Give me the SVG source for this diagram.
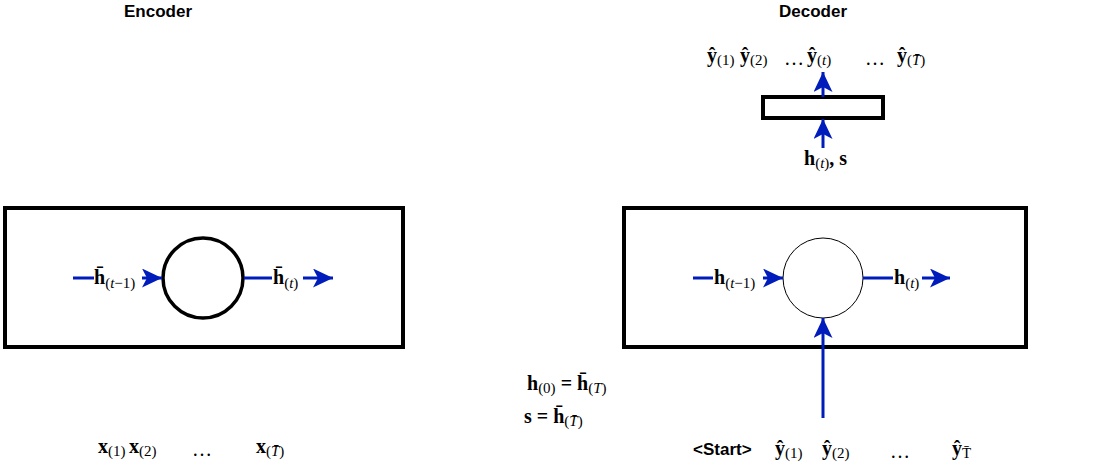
<svg xmlns="http://www.w3.org/2000/svg" width="1105" height="469" viewBox="0 0 1105 469">
<style>
.title{font-family:"Liberation Sans",Arial,sans-serif;font-size:17px;font-weight:bold;fill:#000}
.m{font-family:"Liberation Serif","Times New Roman",serif;font-size:20px;font-weight:bold;fill:#000}
.s{font-size:15px;font-weight:normal}
.i{font-style:italic}
.dots{font-family:"Liberation Serif","Times New Roman",serif;font-size:20px;fill:#000}
.box{fill:#fff;stroke:#000;stroke-width:4}
.cell{fill:#fff;stroke:#000}
.conn{fill:none;stroke:#001DBC;stroke-width:3;marker-end:url(#ah)}
.bg{fill:#fff}
</style>
<defs>
<marker id="ah" markerUnits="userSpaceOnUse" markerWidth="20" markerHeight="19" refX="20" refY="9.5" orient="auto" viewBox="0 0 20 19">
<path d="M0,0 L20,9.5 L0,19 L5,9.5 z" fill="#001DBC"/>
</marker>
</defs>
<rect width="1105" height="469" fill="#fff"/>

<g id="encoder-title"><text class="title" x="158" y="17" text-anchor="middle">Encoder</text></g>
<g id="decoder-title"><text class="title" x="813" y="17" text-anchor="middle">Decoder</text></g>

<g id="encoder-box"><rect class="box" x="5" y="208" width="398" height="139"/></g>
<g id="encoder-cell"><circle class="cell" cx="203" cy="278" r="40" stroke-width="3.5"/></g>

<g id="decoder-box"><rect class="box" x="624" y="208" width="402" height="139"/></g>
<g id="decoder-cell"><circle class="cell" cx="823" cy="278" r="40" stroke-width="1"/></g>
<g id="output-layer"><rect class="box" x="763" y="97" width="120" height="21" stroke-width="3.5"/></g>

<g id="connectors">
<path class="conn" d="M73,278 H162"/>
<path class="conn" d="M244,278 H333"/>
<path class="conn" d="M693,278 H783"/>
<path class="conn" d="M863,278 H950"/>
<path class="conn" d="M823,418 V318"/>
<path class="conn" d="M823,148 V119"/>
<path class="conn" d="M823,97 V72"/>
</g>

<g id="labels">
<rect class="bg" x="94" y="262" width="48" height="32"/>
<text class="m" x="94" y="284">h&#x304;<tspan class="s" dy="4">(<tspan class="i">t</tspan>−1)</tspan></text>
<rect class="bg" x="272" y="262" width="31" height="32"/>
<text class="m" x="273" y="284">h&#x304;<tspan class="s" dy="4">(<tspan class="i">t</tspan>)</tspan></text>
<rect class="bg" x="713" y="262" width="50" height="32"/>
<text class="m" x="714" y="284">h<tspan class="s" dy="4">(<tspan class="i">t</tspan>−1)</tspan></text>
<rect class="bg" x="893" y="262" width="29" height="32"/>
<text class="m" x="894" y="284">h<tspan class="s" dy="4">(<tspan class="i">t</tspan>)</tspan></text>
</g>

<g id="decoder-outputs">
<text class="m" x="707" y="62">ŷ<tspan class="s" dy="3">(1)</tspan></text>
<text class="m" x="740" y="62">ŷ<tspan class="s" dy="3">(2)</tspan></text>
<text class="dots" x="784" y="65">…</text>
<text class="m" x="807" y="62">ŷ<tspan class="s" dy="3">(<tspan class="i">t</tspan>)</tspan></text>
<text class="dots" x="865" y="65">…</text>
<text class="m" x="897" y="62">ŷ<tspan class="s" dy="3">(<tspan class="i">T&#x304;</tspan>)</tspan></text>
</g>

<g id="decoder-layer-input">
<text class="m" x="804" y="165">h<tspan class="s" dy="3">(<tspan class="i">t</tspan>)</tspan><tspan dy="-3">, s</tspan></text>
</g>

<g id="init-state">
<text class="m" x="527" y="390">h<tspan class="s" dy="3">(0)</tspan><tspan dy="-3"> = h&#x304;</tspan><tspan class="s" dy="3">(<tspan class="i">T</tspan>)</tspan></text>
<text class="m" x="524" y="423">s = h&#x304;<tspan class="s" dy="3">(<tspan class="i">T&#x304;</tspan>)</tspan></text>
</g>

<g id="decoder-inputs">
<text class="title" x="693" y="455">&lt;Start&gt;</text>
<text class="m" x="775" y="455">ŷ<tspan class="s" dy="3">(1)</tspan></text>
<text class="m" x="822" y="455">ŷ<tspan class="s" dy="3">(2)</tspan></text>
<text class="dots" x="890" y="458">…</text>
<text class="m" x="952" y="455">ŷ<tspan class="s" dy="3" font-weight="bold">T&#x304;</tspan></text>
</g>

<g id="encoder-inputs">
<text class="m" x="98" y="453">x<tspan class="s" dy="3">(1)</tspan></text>
<text class="m" x="129" y="453">x<tspan class="s" dy="3">(2)</tspan></text>
<text class="dots" x="192" y="456">…</text>
<text class="m" x="256" y="453">x<tspan class="s" dy="3">(<tspan class="i">T&#x304;</tspan>)</tspan></text>
</g>
</svg>
